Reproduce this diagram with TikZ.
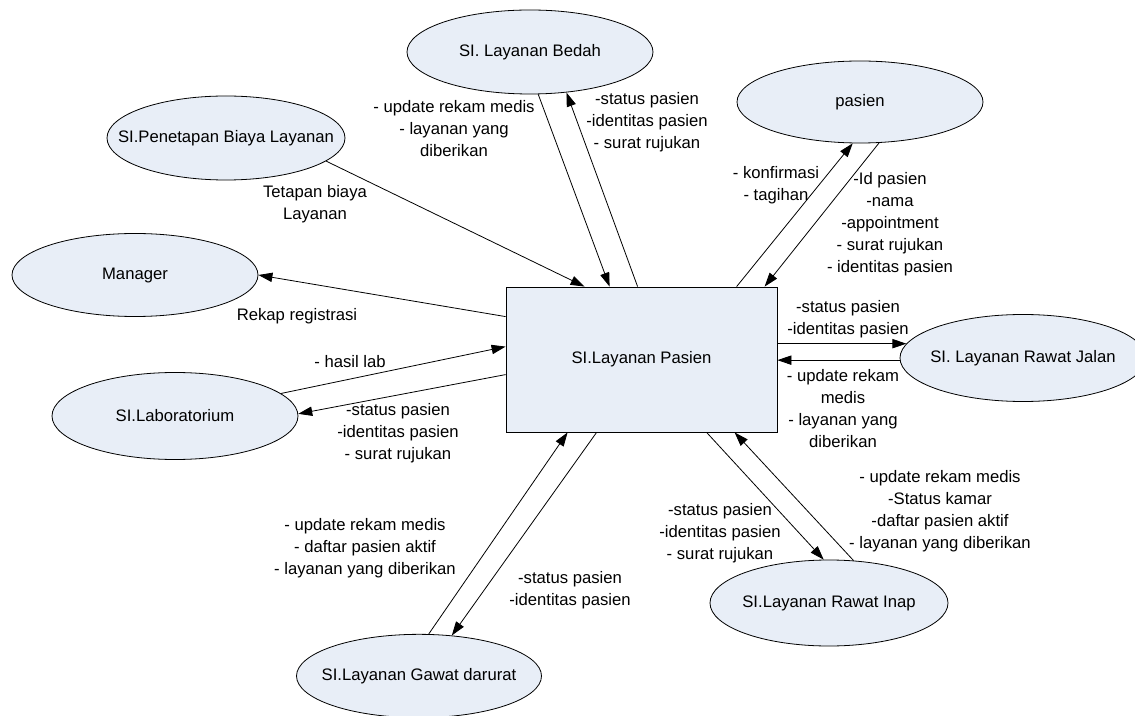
\documentclass[tikz,border=0pt]{standalone}
\usepackage{fontspec}
\setmainfont{Liberation Sans}
\usetikzlibrary{arrows.meta,calc,shapes.geometric}
\definecolor{boxfill}{RGB}{232,238,247}
\begin{document}
\begin{tikzpicture}[x=0.75pt,y=-0.75pt,
  every node/.style={font=\fontsize{12.5pt}{16.5pt}\selectfont},
  proc/.style={ellipse, draw, fill=boxfill, line width=0.6pt, inner sep=0pt},
  mainbox/.style={rectangle, draw, fill=boxfill, line width=0.6pt, inner sep=0pt},
  flow/.style={line width=0.6pt, -{Triangle[length=10.5pt,width=7pt]}},
  lbl/.style={align=center, inner sep=0pt}]
\useasboundingbox (0,0) rectangle (1135,716);

% central process
\node[mainbox, minimum width=203.25pt, minimum height=108.75pt] (rect) at (641.5,359.5) {SI.Layanan Pasien};

% external entities
\node[proc, minimum width=184.5pt, minimum height=63pt, label={center:SI. Layanan Bedah}] (bed) at (530,52) {};
\node[proc, minimum width=184.5pt, minimum height=61.5pt, label={center:pasien}] (pas) at (860,102) {};
\node[proc, minimum width=178.5pt, minimum height=63pt, label={center:SI.Penetapan Biaya Layanan}] (pen) at (226,138) {};
\node[proc, minimum width=184.5pt, minimum height=62.25pt, label={center:Manager}] (man) at (135,275) {};
\node[proc, minimum width=184.5pt, minimum height=65.25pt, label={center:SI.Laboratorium}] (lab) at (175,416) {};
\node[proc, minimum width=184.5pt, minimum height=65.25pt, label={center:SI. Layanan Rawat Jalan}] (rj) at (1023,358) {};
\node[proc, minimum width=178.5pt, minimum height=64.5pt, label={center:SI.Layanan Rawat Inap}] (ri) at (829,603) {};
\node[proc, minimum width=183.75pt, minimum height=62.5pt, label={center:SI.Layanan Gawat darurat}] (gd) at (419,676) {};

% data flows
\draw[flow] (pen.-13.4) -- ($(rect.north west)+(79,0)$);
\draw[flow] (bed.-79.2) -- ($(rect.north west)+(104,0)$);
\draw[flow] ($(rect.north west)+(132,0)$) -- (bed.-48.7);
\draw[flow] ($(rect.north west)+(231,0)$) -- (pas.260.3);
\draw[flow] (pas.-65.1) -- ($(rect.north west)+(259,0)$);
\draw[flow] ($(rect.north west)+(0,30)$) -- (man.east);
\draw[flow] (lab.12.6) -- ($(rect.north west)+(0,60)$);
\draw[flow] ($(rect.north west)+(0,88)$) -- (lab.1.5);
\draw[flow] (rect.east |- rj.173.7) -- (rj.173.7);
\draw[flow] (rj.181.4) -- (rect.east |- rj.181.4);
\draw[flow] ($(rect.south west)+(201,0)$) -- (ri.97.8);
\draw[flow] (ri.60.3) -- ($(rect.south west)+(229,0)$);
\draw[flow] (gd.77.9) -- ($(rect.south west)+(62,0)$);
\draw[flow] ($(rect.south west)+(91,0)$) -- (gd.51);

% flow labels
\node[lbl] (t1) at (454,129) {- update rekam medis\\- layanan yang\\diberikan};
\node[lbl] (t2) at (647,122) {-status pasien\\-identitas pasien\\- surat rujukan};
\node[lbl] (t3) at (776,185) {- konfirmasi\\- tagihan};
\node[lbl] (t4) at (890,224) {-Id pasien\\-nama\\-appointment\\- surat rujukan\\- identitas pasien};
\node[lbl] (t5) at (315,204) {Tetapan biaya\\Layanan};
\node[lbl] (t6) at (297,316) {Rekap registrasi};
\node[lbl] (t7) at (350,362) {- hasil lab};
\node[lbl] (t8) at (398,433) {-status pasien\\-identitas pasien\\- surat rujukan};
\node[lbl] (t9) at (848,319) {-status pasien\\-identitas pasien};
\node[lbl] (t10) at (843,409) {- update rekam\\medis\\- layanan yang\\diberikan};
\node[lbl] (t11) at (940,511) {- update rekam medis\\-Status kamar\\-daftar pasien aktif\\- layanan yang diberikan};
\node[lbl] (t12) at (720,533) {-status pasien\\-identitas pasien\\- surat rujukan};
\node[lbl] (t13) at (365,548) {- update rekam medis\\- daftar pasien aktif\\- layanan yang diberikan};
\node[lbl] (t14) at (570,590) {-status pasien\\-identitas pasien};
\end{tikzpicture}
\end{document}
